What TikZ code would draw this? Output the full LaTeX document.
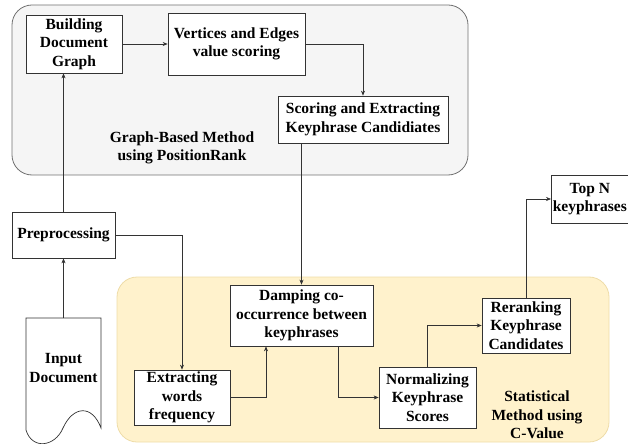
\documentclass[tikz,border=0pt]{standalone}
\usepackage{fontspec}
\setmainfont{Liberation Serif}
\usetikzlibrary{arrows.meta,calc}
\definecolor{grayfill}{HTML}{F5F5F5}
\definecolor{graydraw}{HTML}{707070}
\definecolor{yelfill}{HTML}{FFF2CC}
\definecolor{yeldraw}{HTML}{EEDCA8}
\definecolor{linec}{HTML}{333333}
\tikzset{
  x=1pt,y=-1pt,
  every node/.style={font=\fontsize{15.5}{18.5}\selectfont\bfseries, align=center, inner sep=0pt},
  box/.style={draw=linec, fill=white, line width=0.7pt},
  conn/.style={draw=linec, line width=0.6pt, -{Stealth[length=5pt,width=4pt]}},
  group/.style={rounded corners=20pt, line width=0.8pt},
}
\begin{document}
\begin{tikzpicture}
\useasboundingbox (0,0) rectangle (628,446);
% containers
\draw[group, fill=grayfill, draw=graydraw] (12,5) rectangle (468,175);
\draw[group, fill=yelfill, draw=yeldraw] (117,277) rectangle (609,442);
% nodes
\node[box, minimum width=96pt, minimum height=58pt] (build) at (74,44) {Building\\Document\\Graph};
\node[box, minimum width=137pt, minimum height=62pt] (vert) at (236.5,44) {Vertices and Edges\\value scoring};
\node[box, minimum width=170pt, minimum height=47pt] (score) at (363,119.5) {Scoring and Extracting\\Keyphrase Candidiates};
\node (glabel) at (182,148) {Graph-Based Method\\using PositionRank};
\node[box, minimum width=103pt, minimum height=46pt] (prep) at (63.5,235) {Preprocessing};
\node[box, minimum width=96pt, minimum height=55pt] (extr) at (182,397.5) {Extracting\\words\\frequency};
\node[box, minimum width=143pt, minimum height=61pt] (damp) at (301.5,315.5) {Damping co-\\occurrence between\\keyphrases};
\node[box, minimum width=97pt, minimum height=61pt] (norm) at (427.5,397.5) {Normalizing\\Keyphrase\\Scores};
\node[box, minimum width=88pt, minimum height=55pt] (rerank) at (526,325.5) {Reranking\\Keyphrase\\Candidates};
\node[box, minimum width=80pt, minimum height=48pt, anchor=west] (topn) at (551,199) {\hspace*{-3pt}Top N\\\hspace*{-3pt}keyphrases};
\node (slabel) at (537,415) {Statistical\\Method using\\C-Value};
% document shape
\draw[linec, line width=0.7pt, fill=white] (26,318) -- (101,318) -- (101,428)
  .. controls (92,404) and (73,406) .. (63,428)
  .. controls (55,447) and (32,450) .. (26,430) -- cycle;
\coordinate (doctop) at (63.5,318);
\node (doc) at (63.5,368) {Input\\Document};
% connectors
\draw[conn] (build.east) -- (vert.west);
\draw[conn] (vert.east) -| (score.north);
\draw[conn] (prep.north) -- (prep.north |- build.south);
\draw[conn] (doctop) -- (prep.south);
\draw[conn] (prep.east) -| (extr.north);
\draw[conn] (damp.north |- score.south) -- (damp.north);
\draw[conn] (extr.east) -| ([xshift=-35.5pt]damp.south);
\draw[conn] ([xshift=36.5pt]damp.south) |- (norm.west);
\draw[conn] (norm.north) |- (rerank.west);
\draw[conn] (rerank.north) |- (topn.west);
\end{tikzpicture}
\end{document}
